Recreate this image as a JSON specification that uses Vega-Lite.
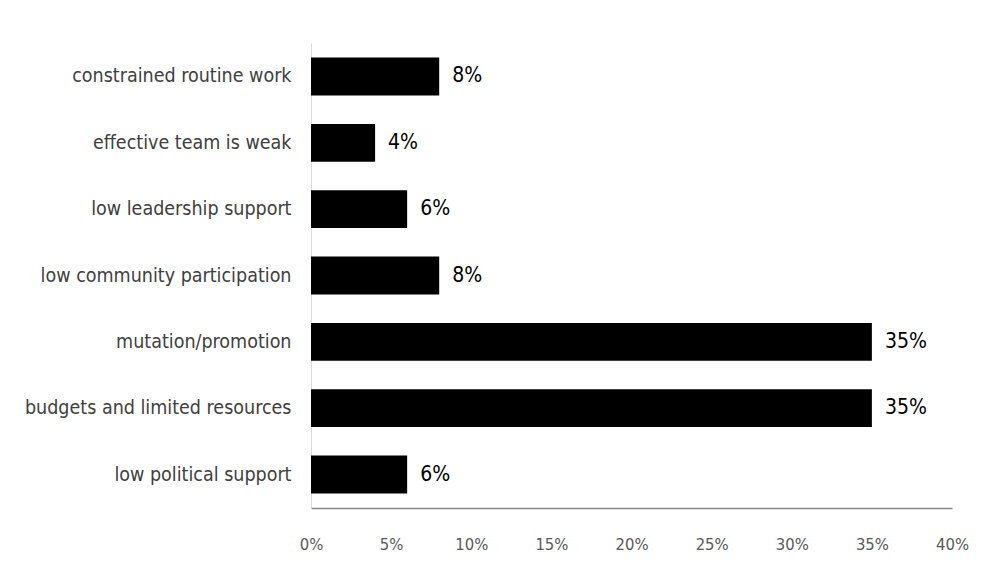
{
  "$schema": "https://vega.github.io/schema/vega-lite/v6.json",
  "autosize": {"type": "none"},
  "padding": {"left": 311, "top": 43, "right": 33, "bottom": 60},
  "width": 641,
  "height": 465,
  "background": "white",
  "config": {"view": {"stroke": null}},
  "data": {"values": [
    {"cause": "constrained routine work", "value": 0.08},
    {"cause": "effective team is weak", "value": 0.04},
    {"cause": "low leadership support", "value": 0.06},
    {"cause": "low community participation", "value": 0.08},
    {"cause": "mutation/promotion", "value": 0.35},
    {"cause": "budgets and limited resources", "value": 0.35},
    {"cause": "low political  support", "value": 0.06}
  ]},
  "encoding": {
    "y": {"field": "cause", "type": "nominal", "sort": null,
      "scale": {"paddingInner": 0.43, "paddingOuter": 0.22},
      "axis": {"title": null, "ticks": false, "domainColor": "#d9d9d9", "labelFont": "DejaVu Sans Condensed", "labelFontSize": 19.5, "labelColor": "#404040", "labelPadding": 20, "labelLimit": 400}},
    "x": {"field": "value", "type": "quantitative",
      "scale": {"domain": [0, 0.4]},
      "axis": {"title": null, "format": ".0%", "values": [0,0.05,0.1,0.15,0.2,0.25,0.3,0.35,0.4], "grid": false, "ticks": false, "labelFlush": false, "domainColor": "#868686", "domainWidth": 1.5, "labelFont": "DejaVu Sans Condensed", "labelFontSize": 16.5, "labelColor": "#595959", "labelPadding": 28}}
  },
  "layer": [
    {"mark": {"type": "bar", "color": "black"}},
    {"mark": {"type": "text", "align": "left", "dx": 13, "font": "DejaVu Sans Condensed", "fontSize": 21, "color": "#000000"},
      "encoding": {"text": {"field": "value", "type": "quantitative", "format": ".0%"}}}
  ]
}
